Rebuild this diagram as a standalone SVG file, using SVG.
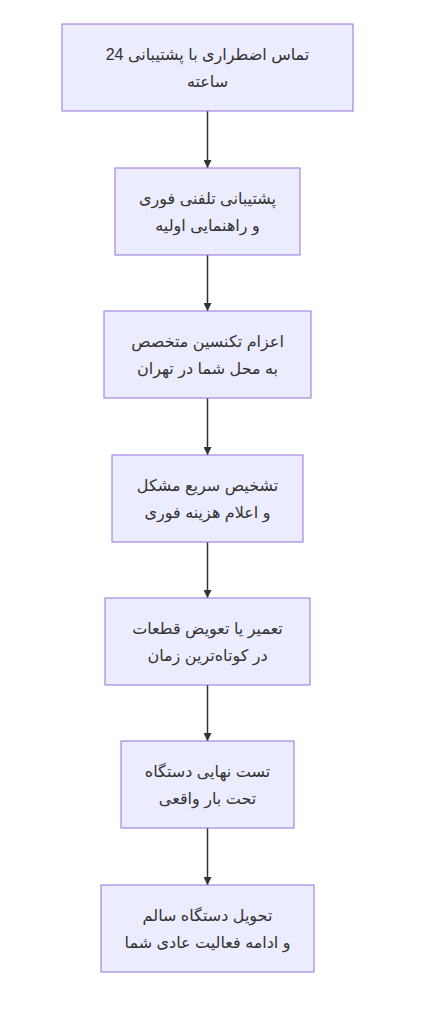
<svg xmlns="http://www.w3.org/2000/svg" width="425" height="1024" viewBox="0 0 425 1024">
<style>
.n rect{fill:#ECECFF;stroke:#9370DB;stroke-width:1}
.n text{font-family:"Liberation Sans","DejaVu Sans",sans-serif;font-size:16px;fill:#333;text-anchor:middle;dominant-baseline:central;direction:rtl;unicode-bidi:embed}
.e path{stroke:#333;stroke-width:1.5;fill:none}
</style>
<defs>
<marker id="ah" viewBox="0 0 10 10" refX="10" refY="5" markerWidth="8" markerHeight="8" markerUnits="userSpaceOnUse" orient="auto"><path d="M0,0L10,5L0,10z" fill="#333"/></marker>
</defs>
<rect width="425" height="1024" fill="#fff"/>
<g class="e">
<path d="M207.5,111V168" marker-end="url(#ah)"/>
<path d="M207.5,255V311" marker-end="url(#ah)"/>
<path d="M207.5,398V455" marker-end="url(#ah)"/>
<path d="M207.5,542V598" marker-end="url(#ah)"/>
<path d="M207.5,685V741" marker-end="url(#ah)"/>
<path d="M207.5,828V885" marker-end="url(#ah)"/>
</g>
<g id="n1" class="n"><rect x="62" y="24" width="291" height="87"/><text x="207.5" y="54">تماس اضطراری با پشتیبانی 24</text><text x="207.5" y="81">ساعته</text></g>
<g id="n2" class="n"><rect x="115" y="168" width="185" height="87"/><text x="207.5" y="198">پشتیبانی تلفنی فوری</text><text x="207.5" y="225">و راهنمایی اولیه</text></g>
<g id="n3" class="n"><rect x="104" y="311" width="207" height="87"/><text x="207.5" y="341">اعزام تکنسین متخصص</text><text x="207.5" y="368">به محل شما در تهران</text></g>
<g id="n4" class="n"><rect x="112" y="455" width="191" height="87"/><text x="207.5" y="485">تشخیص سریع مشکل</text><text x="207.5" y="512">و اعلام هزینه فوری</text></g>
<g id="n5" class="n"><rect x="105" y="598" width="205" height="87"/><text x="207.5" y="628">تعمیر یا تعویض قطعات</text><text x="207.5" y="655">در کوتاه‌ترین زمان</text></g>
<g id="n6" class="n"><rect x="121" y="741" width="173" height="87"/><text x="207.5" y="771">تست نهایی دستگاه</text><text x="207.5" y="798">تحت بار واقعی</text></g>
<g id="n7" class="n"><rect x="101" y="885" width="213" height="87"/><text x="207.5" y="915">تحویل دستگاه سالم</text><text x="207.5" y="942">و ادامه فعالیت عادی شما</text></g>
</svg>
